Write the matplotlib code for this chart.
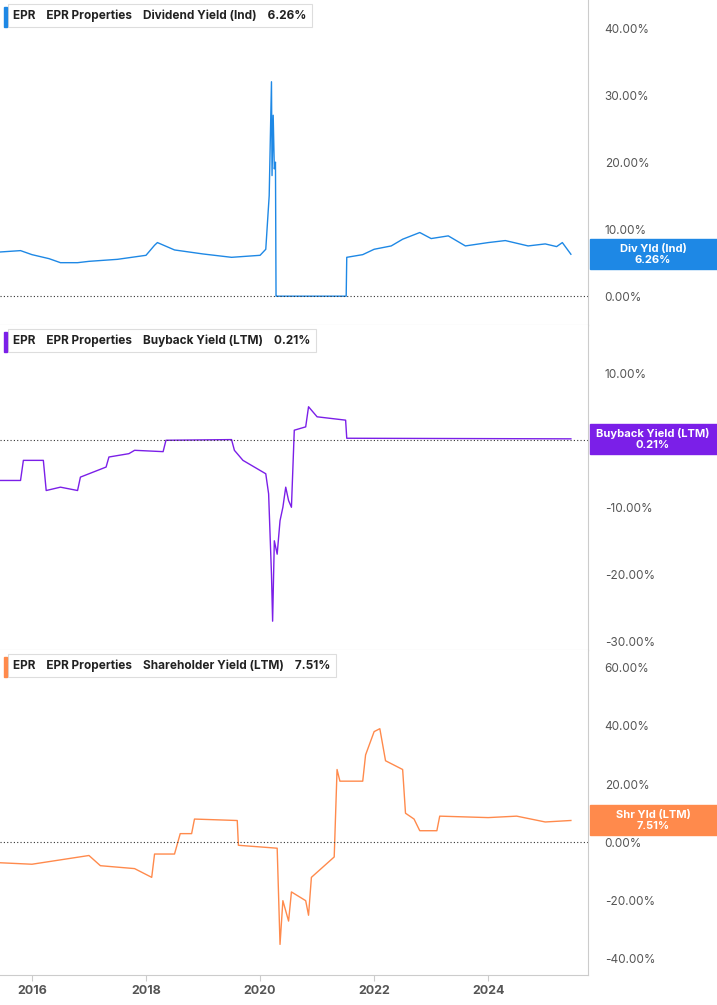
import matplotlib
matplotlib.use("Agg")
import matplotlib.pyplot as plt
from matplotlib.patches import Rectangle

plt.rcParams['font.family'] = ['Inter', 'DejaVu Sans']

div_x = [2015.45,2015.8,2016,2016.3,2016.5,2016.8,2017,2017.5,2018,2018.15,2018.2,2018.5,2019,2019.5,2020,2020.1,2020.16,2020.2,2020.21,2020.23,2020.25,2020.27,2020.28,2020.29,2021.51,2021.52,2021.8,2022,2022.3,2022.5,2022.8,2023,2023.3,2023.6,2024,2024.3,2024.7,2025,2025.2,2025.3,2025.45]
div_y = [6.6,6.8,6.2,5.6,5.0,5.0,5.2,5.5,6.1,7.6,8.0,6.9,6.3,5.8,6.1,7.0,15,32,18,27,19,20,0,0,0,5.8,6.2,7.0,7.5,8.5,9.5,8.6,9.0,7.5,8.0,8.3,7.5,7.8,7.4,8.0,6.26]

bb_x = [2015.45,2015.8,2015.85,2016.2,2016.25,2016.5,2016.8,2016.85,2017.3,2017.35,2017.7,2017.8,2018.3,2018.35,2019.5,2019.55,2019.7,2019.9,2020.1,2020.15,2020.2,2020.22,2020.25,2020.3,2020.35,2020.4,2020.45,2020.5,2020.55,2020.6,2020.8,2020.85,2021,2021.5,2021.52,2025.45]
bb_y = [-6,-6,-3,-3,-7.5,-7,-7.5,-5.5,-4,-2.5,-2,-1.5,-1.7,0,0.1,-1.5,-3,-4,-5,-8,-20,-27,-15,-17,-12,-10,-7,-9,-10,1.5,2,5,3.5,3,0.3,0.21]

sh_x = [2015.45,2016,2016.5,2017,2017.2,2017.8,2018.1,2018.15,2018.5,2018.6,2018.8,2018.85,2019.6,2019.62,2020.3,2020.35,2020.4,2020.5,2020.55,2020.8,2020.85,2020.9,2021.3,2021.35,2021.4,2021.8,2021.85,2022,2022.1,2022.2,2022.5,2022.55,2022.7,2022.8,2023.1,2023.15,2024,2024.5,2025,2025.45]
sh_y = [-7,-7.5,-6,-4.5,-8,-9,-12,-4,-4,3,3,8,7.5,-1,-2,-35,-20,-27,-17,-20,-25,-12,-5,25,21,21,30,38,39,28,25,10,8,4,4,9,8.5,9,7,7.51]

panels = [
    dict(x=div_x, y=div_y, color='#1E88E5', ylim=(-4.3, 44.2), ticks=[0,10,20,30,40],
         name='Dividend Yield (Ind)', val='6.26%', badge='Div Yld (Ind)\n6.26%', last=6.26),
    dict(x=bb_x, y=bb_y, color='#7B1FE8', ylim=(-31.3, 17.2), ticks=[-30,-20,-10,0,10],
         name='Buyback Yield (LTM)', val='0.21%', badge='Buyback Yield (LTM)\n0.21%', last=0.21),
    dict(x=sh_x, y=sh_y, color='#FF8A4C', ylim=(-45.5, 66), ticks=[-40,-20,0,20,40,60],
         name='Shareholder Yield (LTM)', val='7.51%', badge='Shr Yld (LTM)\n7.51%', last=7.51),
]

W, H = 717, 1005
fig = plt.figure(figsize=(W/100, H/100), dpi=100)
tops = [0, 325, 650]
for i, p in enumerate(panels):
    ax = fig.add_axes([0, 1-(tops[i]+325)/H, 588/W, 325/H])
    ax.plot(p['x'], p['y'], color=p['color'], lw=1.0)
    ax.axhline(0, color='#333333', lw=0.8, ls=(0, (1, 2)))
    ax.set_xlim(2015.44, 2025.75)
    ax.set_ylim(*p['ylim'])
    ax.yaxis.tick_right()
    ax.set_yticks(p['ticks'])
    ax.set_yticklabels([f'{t:.2f}%' for t in p['ticks']], fontsize=8.5, color='#555555')
    ax.tick_params(axis='y', length=0, pad=12)
    for s in ['left', 'top']:
        ax.spines[s].set_visible(False)
    ax.spines['right'].set_color('#cccccc')
    ax.spines['bottom'].set_color('#cccccc')
    if i < 2:
        ax.set_xticks([])
    else:
        ax.set_xticks([2016, 2018, 2020, 2022, 2024])
        ax.set_xticklabels(['2016', '2018', '2020', '2022', '2024'], fontsize=9, color='#555555', fontweight='bold')
        ax.tick_params(axis='x', length=4, color='#cccccc')
    # legend box
    ax.text(0.022, 0.972, f"EPR    EPR Properties    {p['name']}    {p['val']}", transform=ax.transAxes,
            fontsize=8.5, fontweight='bold', color='#222222', va='top', ha='left',
            bbox=dict(boxstyle='square,pad=0.45', fc='white', ec='#dddddd', lw=0.8))
    fig.patches.append(Rectangle((4/W, 1-(tops[i]+27)/H), 3/W, 20/H, transform=fig.transFigure,
                                 color=p['color'], zorder=10))
    # badge
    yd = ax.transData.transform((0, p['last']))[1]
    yf = yd / fig.dpi / fig.get_figheight()
    fig.patches.append(Rectangle((590/W, yf - 15/H), 127/W, 30/H, transform=fig.transFigure,
                                 color=p['color'], zorder=5))
    fig.text(653/W, yf, p['badge'], ha='center', va='center', fontsize=8, fontweight='bold',
             color='white', linespacing=1.1, zorder=6)

fig.savefig('out.png', dpi=100)
